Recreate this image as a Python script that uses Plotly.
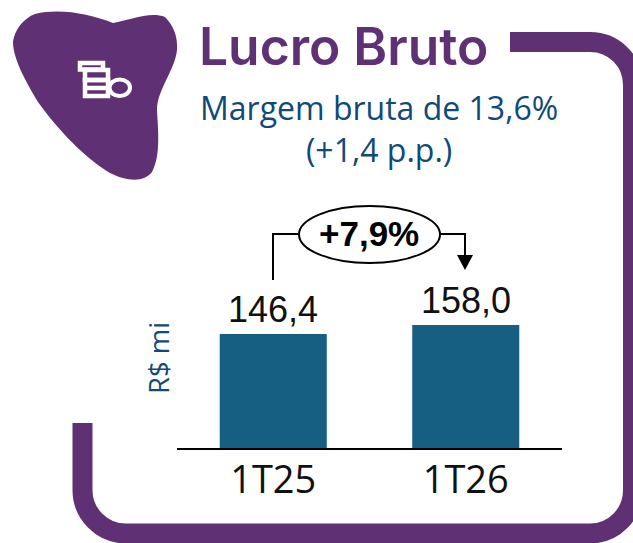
import plotly.graph_objects as go

categories = ["1T25", "1T26"]
lucro_bruto = [146.4, 158.0]
labels = ["146,4", "158,0"]

W, H = 633, 543
PURPLE = "#5f3174"
BLUE = "#0f4a78"
BAR = "#165f82"

def X(p): return p / W
def Y(p): return 1 - p / H
def path(d):
    out = []
    for tok in d:
        if isinstance(tok, str):
            out.append(tok)
        else:
            out.append(f"{X(tok[0]):.5f},{Y(tok[1]):.5f}")
    return " ".join(out)

fig = go.Figure(go.Bar(
    x=categories, y=lucro_bruto,
    cliponaxis=False, marker=dict(color=BAR, line=dict(width=0)),
    hoverinfo="skip", showlegend=False))

shapes = []
def add_path(d, fill=None, color=None, width=0):
    shapes.append(dict(type="path", xref="paper", yref="paper", path=path(d),
                       fillcolor=fill or "rgba(0,0,0,0)",
                       line=dict(color=color or "rgba(0,0,0,0)", width=width),
                       layer="above"))

# frame
add_path(["M", (510, 42), "L", (590, 42), "C", (614, 42), (633, 61), (633, 85),
          "L", (633, 490), "C", (633, 514), (614, 533.5), (590, 533.5),
          "L", (126, 533.5), "C", (102, 533.5), (82.5, 514), (82.5, 490), "L", (82.5, 423)],
         color=PURPLE, width=20)
# blob
add_path(["M", (35, 14), "C", (60, 8), (90, 14), (113, 23), "C", (130, 20), (150, 11), (165, 17),
          "C", (173, 25), (178, 36), (177, 50), "C", (175, 70), (157, 90), (157, 110),
          "C", (158, 130), (161, 155), (152, 172), "C", (145, 181), (130, 183), (110, 173),
          "C", (85, 158), (58, 130), (38, 102), "C", (28, 85), (13, 60), (13, 42),
          "C", (14, 30), (24, 18), (35, 14), "Z"], fill=PURPLE)
# icon
for d in (["M", (80, 63), "L", (103, 63), "L", (103, 69.5), "L", (80, 69.5), "Z"],
          ["M", (85, 70), "L", (108, 70), "L", (108, 80), "L", (85, 80), "Z"],
          ["M", (85, 80), "L", (108, 80), "L", (108, 96), "L", (85, 96), "Z"],
          ["M", (85, 88), "L", (108, 88)]):
    add_path(d, color="white", width=4.5)
shapes.append(dict(type="circle", xref="paper", yref="paper", layer="above",
                   x0=X(109.5), x1=X(130), y0=Y(79.5), y1=Y(96),
                   fillcolor=PURPLE, line=dict(color="white", width=4)))
# connector
add_path(["M", (273, 280), "L", (273, 234), "L", (298, 234)], color="black", width=2)
add_path(["M", (440, 234), "L", (465, 234), "L", (465, 256)], color="black", width=2)
add_path(["M", (457, 255), "L", (473, 255), "L", (465, 270), "Z"], fill="black")
shapes.append(dict(type="circle", xref="paper", yref="paper", layer="above",
                   x0=X(299), x1=X(440), y0=Y(206), y1=Y(263),
                   fillcolor="white", line=dict(color="black", width=2)))

def note(text, x, y, size, color, family, weight=400, **kw):
    return dict(text=text, x=X(x), y=Y(y), xref="paper", yref="paper", showarrow=False,
                xanchor="center", yanchor="middle",
                font=dict(size=size, color=color, family=family, weight=weight), **kw)

annotations = [
    note("Lucro Bruto", 343, 46, 51.5, PURPLE, "Inter", weight=600),
    note("Margem bruta de 13,6%<br>(+1,4 p.p.)", 379, 129, 32, BLUE, "Open Sans"),
    note("<b>+7,9%</b>", 369, 233, 35, "black", "Liberation Sans"),
    note("R$ mi", 158, 358, 27.5, BLUE, "Open Sans", textangle=-90),
]
for cat, val, lab in zip(categories, lucro_bruto, labels):
    annotations.append(dict(text=lab, x=cat, y=val, xref="x", yref="y", showarrow=False,
                            xanchor="center", yanchor="middle", yshift=25,
                            font=dict(family="Liberation Sans", size=36, color="#111111")))

fig.update_layout(
    width=W, height=H, margin=dict(l=0, r=0, t=0, b=0),
    paper_bgcolor="white", plot_bgcolor="white", bargap=0.444,
    shapes=shapes, annotations=annotations,
    xaxis=dict(domain=[177 / W, 562 / W], type="category", showgrid=False, ticks="",
               showline=True, linecolor="black", linewidth=2, anchor="y",
               ticklabelstandoff=-3,
               tickfont=dict(family="Open Sans", size=38, color="#111111")),
    yaxis=dict(domain=[95 / H, (95 + 155.7) / H], range=[0, 200], visible=False),
)
fig.write_html("out.html", config=dict(displayModeBar=False),
               post_script="document.body.style.margin='0';")
